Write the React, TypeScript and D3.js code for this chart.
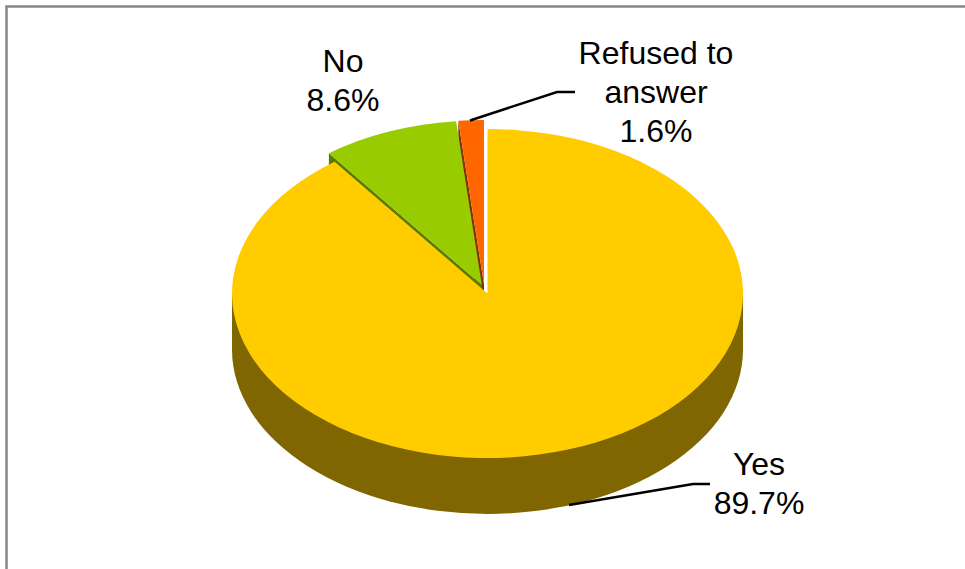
import React from "react";
import * as d3 from "d3";

const categories = ["Yes", "No", "Refused to answer"];
const values = [89.7, 8.6, 1.6];
const valueLabels = ["89.7%", "8.6%", "1.6%"];
const topColors = ["#FFCC00", "#99CC00", "#FF6600"];
const sideColors = ["#806600", "#5C7A00", "#803300"];

const W = 965, H = 569;
const cx = 487.5, cy = 293.5, rx = 255.5, ry = 164.5, depth = 56;
const offsets: [number, number][] = [[0, 0], [-5.7, -8.5], [-3.5, -9]];
const FONT = "'Liberation Sans', Arial, sans-serif";
const FS = 32;

const labelLayout = [
  { lines: ["Yes", valueLabels[0]], x: 759, y: 475 },
  { lines: ["No", valueLabels[1]], x: 343, y: 72 },
  { lines: ["Refused to", "answer", valueLabels[2]], x: 656, y: 64 },
];
const leaders: [number, number][][] = [
  [[569, 505], [693, 484], [710, 484]],
  [[470, 120.5], [557, 92], [575, 92]],
];

export default function App() {
  const pie = d3.pie<number>().sort(null).value((d) => d);
  const arcs = pie(values);
  const arc = d3.arc<d3.PieArcDatum<number>>().innerRadius(0).outerRadius(rx);
  const line = d3.line();
  const px = (a: number, i: number) => cx + offsets[i][0] + rx * Math.sin(a);
  const py = (a: number, i: number) => cy + offsets[i][1] - ry * Math.cos(a);

  const wedge = (i: number) => {
    const a = arcs[i];
    const ax = cx + offsets[i][0], ay = cy + offsets[i][1];
    return (
      <g key={categories[i]}>
        <path
          d={line([
            [px(a.startAngle, i), py(a.startAngle, i)],
            [px(a.startAngle, i), py(a.startAngle, i) + depth],
            [ax, ay + depth],
            [ax, ay],
          ]) as string}
          fill={sideColors[i]}
        />
        <path
          d={arc(a) as string}
          transform={`translate(${ax},${ay}) scale(1,${ry / rx})`}
          fill={topColors[i]}
        />
      </g>
    );
  };

  const wall = `M${cx - rx},${cy} L${cx - rx},${cy + depth} A${rx},${ry} 0 0 0 ${cx + rx},${cy + depth} L${cx + rx},${cy} Z`;

  return (
    <svg
      width={W}
      height={H}
      viewBox={`0 0 ${W} ${H}`}
      style={{ position: "fixed", left: 0, top: 0, background: "#fff" }}
    >
      <rect x={6.5} y={6.5} width={W + 20} height={H + 20} fill="none" stroke="#868686" strokeWidth={2.5} />
      {wedge(2)}
      {wedge(1)}
      <path d={wall} fill={sideColors[0]} />
      <path
        d={arc(arcs[0]) as string}
        transform={`translate(${cx},${cy}) scale(1,${ry / rx})`}
        fill={topColors[0]}
      />
      {leaders.map((l, i) => (
        <path key={i} d={line(l) as string} fill="none" stroke="#000" strokeWidth={2.5} />
      ))}
      {labelLayout.map((l) => (
        <text key={l.lines[0]} x={l.x} y={l.y} textAnchor="middle" fontFamily={FONT} fontSize={FS} fill="#000">
          {l.lines.map((t, j) => (
            <tspan key={j} x={l.x} y={l.y + j * 39}>{t}</tspan>
          ))}
        </text>
      ))}
    </svg>
  );
}
